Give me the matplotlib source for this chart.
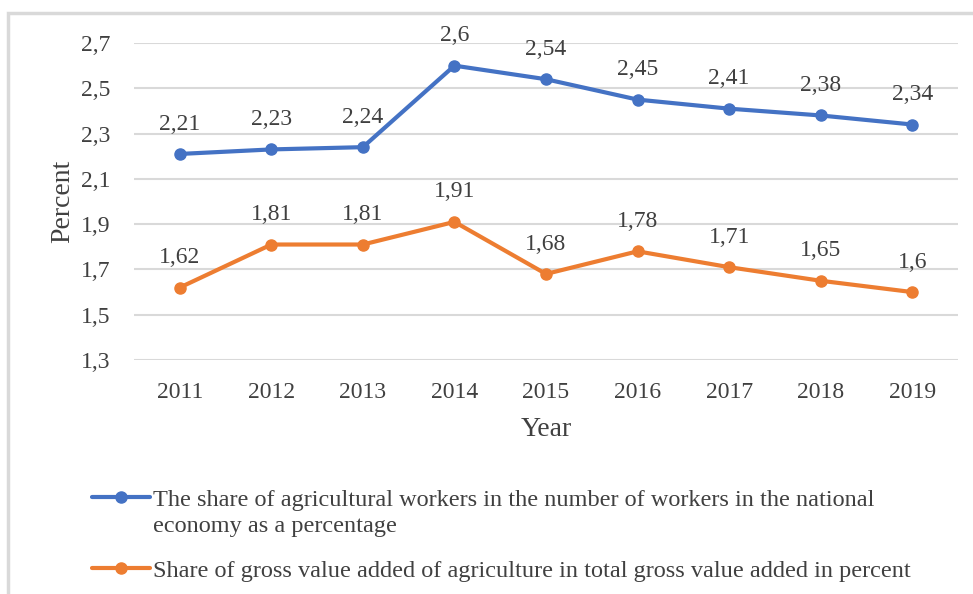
import matplotlib.pyplot as plt
from matplotlib.patches import Rectangle

years = ['2011', '2012', '2013', '2014', '2015', '2016', '2017', '2018', '2019']
workers_share = [2.21, 2.23, 2.24, 2.6, 2.54, 2.45, 2.41, 2.38, 2.34]
gva_share = [1.62, 1.81, 1.81, 1.91, 1.68, 1.78, 1.71, 1.65, 1.6]
yticks = [1.3, 1.5, 1.7, 1.9, 2.1, 2.3, 2.5, 2.7]

label_workers = "The share of agricultural workers in the number of workers in the national"
label_workers_2 = "economy as a percentage"
label_gva = "Share of gross value added of agriculture in total gross value added in percent"

plt.rcParams['font.family'] = ['Liberation Serif', 'DejaVu Serif']
txt = '#404040'

fig = plt.figure(figsize=(9.73, 5.94), dpi=100)
ax = fig.add_axes([134 / 973, 1 - 360 / 594, 824 / 973, (360 - 43) / 594])

# outer frame of the chart area
fig.patches.append(Rectangle((8 / 973, -0.05), 1.0, 1 - 13 / 594 + 0.05, transform=fig.transFigure,
                             fill=False, edgecolor='#d9d9d9', linewidth=2.5))

x = list(range(len(years)))
l1, = ax.plot(x, workers_share, color='#4472C4', lw=3, marker='o', ms=8, solid_capstyle='round')
l2, = ax.plot(x, gva_share, color='#ED7D31', lw=3, marker='o', ms=8, solid_capstyle='round')

def fmt(v):
    return ('%g' % v).replace('.', ',')

for xi, v in zip(x, workers_share):
    ax.annotate(fmt(v), (xi, v), xytext=(0, 14), textcoords='offset points',
                ha='center', va='bottom', fontsize=17, color=txt)
for xi, v in zip(x, gva_share):
    ax.annotate(fmt(v), (xi, v), xytext=(0, 14), textcoords='offset points',
                ha='center', va='bottom', fontsize=17, color=txt)

ax.set_xlim(-0.5, 8.5)
ax.set_ylim(1.3, 2.7)
ax.set_xticks(x)
ax.set_xticklabels(years, fontsize=17, color=txt)
ax.set_yticks(yticks)
ax.set_yticklabels([fmt(t) for t in yticks], fontsize=17, color=txt)
ax.tick_params(length=0, pad=16)
ax.tick_params(axis='y', pad=17)
ax.grid(axis='y', color='#d9d9d9', lw=1.5)
ax.set_axisbelow(True)
for s in ax.spines.values():
    s.set_visible(False)
ax.set_xlabel('Year', fontsize=20, color=txt, labelpad=10)
ax.set_ylabel('Percent', fontsize=20, color=txt, labelpad=4)

# legend: handle sits on the first line, wrapped text continues below
leg = fig.legend([l1, l2], [label_workers, label_gva], loc='upper left',
                 bbox_to_anchor=(70 / 973, 1 - 467 / 594), frameon=False, fontsize=17.5,
                 labelcolor=txt, handlelength=2.4, handletextpad=0.1, labelspacing=2.0)
fig.canvas.draw()
t0 = leg.get_texts()[0]
bb = t0.get_window_extent()
fig.text(bb.x0 / fig.bbox.width, (bb.y0 - 5) / fig.bbox.height, label_workers_2,
         fontsize=17.5, color=txt, ha='left', va='top')

fig.savefig('out.png', dpi=100)
